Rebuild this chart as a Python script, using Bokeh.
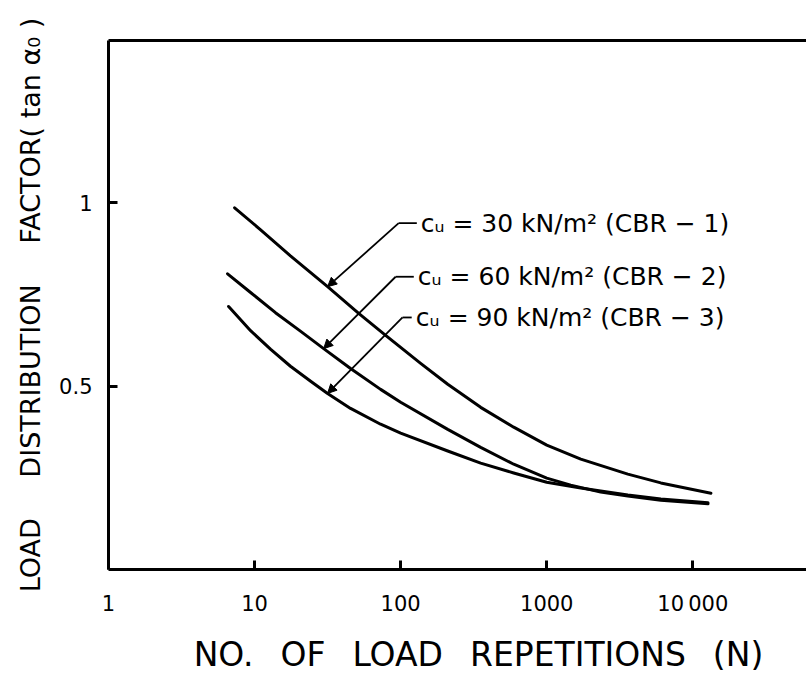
from bokeh.plotting import figure
from bokeh.models import (Range1d, FixedTicker, LinearAxis, ColumnDataSource,
                          Arrow, NormalHead)
from bokeh.core.properties import value
from bokeh.embed import file_html
from bokeh.resources import INLINE

# ---- data ----
# CBR-1 (cu = 30 kN/m2)
n_cbr1 = [7.30, 11.0, 17.6, 31.6, 51.6, 78.9, 137, 210, 353, 594, 1000, 1710, 3590, 6040, 13300]
f_cbr1 = [0.986, 0.926, 0.855, 0.771, 0.698, 0.638, 0.562, 0.505, 0.442, 0.388, 0.339, 0.301, 0.260, 0.236, 0.208]
# CBR-2 (cu = 60 kN/m2)
n_cbr2 = [6.53, 9.39, 13.9, 20.7, 29.7, 45.4, 72.9, 100, 210, 353, 594, 1000, 1460, 2340, 3590, 6040, 12700]
f_cbr2 = [0.806, 0.755, 0.700, 0.649, 0.602, 0.548, 0.491, 0.456, 0.382, 0.333, 0.287, 0.249, 0.230, 0.211, 0.200, 0.189, 0.179]
# CBR-3 (cu = 90 kN/m2)
n_cbr3 = [6.64, 9.39, 12.9, 17.6, 24.2, 31.6, 45.4, 72.9, 100, 210, 353, 594, 1000, 1710, 2340, 3590, 6040, 12700]
f_cbr3 = [0.717, 0.651, 0.600, 0.554, 0.513, 0.480, 0.439, 0.396, 0.372, 0.323, 0.290, 0.263, 0.238, 0.222, 0.214, 0.203, 0.192, 0.182]

x_ticks = [1, 10, 100, 1000, 10000]
x_tick_labels = {1: "1", 10: "10", 100: "100", 1000: "1000", 10000: "10\u2009000"}
y_ticks = [0.5, 1]
y_tick_labels = {0.5: "0.5", 1: "1"}

# annotation texts and leader anchors (data coordinates)
ann_text = ["c\u1d64 = 30 kN/m\u00b2 (CBR \u2212 1)",
            "c\u1d64 = 60 kN/m\u00b2 (CBR \u2212 2)",
            "c\u1d64 = 90 kN/m\u00b2 (CBR \u2212 3)"]
ann_n = [137, 131, 127]
ann_v = [0.944, 0.798, 0.687]
stub_end_n = [129, 123, 119]
elbow_n = [96.9, 92.4, 103]
target_n = [n_cbr1[3], n_cbr2[4], n_cbr3[5]]
target_v = [f_cbr1[3], f_cbr2[4], f_cbr3[5]]

FONT = "DejaVu Sans"
GAP = "\u00a0\u2002"

p = figure(width=806, height=676, x_axis_type="log",
           x_range=Range1d(1, 60000), y_range=Range1d(0, 1.442),
           output_backend="svg", toolbar_location=None,
           min_border_left=108, min_border_right=0,
           min_border_top=40, min_border_bottom=105)
p.outline_line_color = None
p.xgrid.visible = False
p.ygrid.visible = False
p.background_fill_color = "white"
p.border_fill_color = "white"

# axes
xa = p.xaxis[0]
xa.ticker = FixedTicker(ticks=x_ticks)
xa.major_label_overrides = x_tick_labels
xa.axis_label = "\u00a0" * 4 + GAP.join(["NO.", "OF", "LOAD", "REPETITIONS", "(N)"])
ya = p.yaxis[0]
ya.ticker = FixedTicker(ticks=y_ticks)
ya.major_label_overrides = y_tick_labels
ya.axis_label = "LOAD\u2003\u2002DISTRIBUTION\u2003\u2002FACTOR( tan \u03b1\u2080 )"
for ax in (xa, ya):
    ax.axis_line_width = 3
    ax.axis_line_color = "black"
    ax.major_tick_in = 9
    ax.major_tick_out = 0
    ax.major_tick_line_width = 3
    ax.minor_tick_line_color = None
    ax.major_label_text_font = FONT
    ax.major_label_text_font_size = "21px"
    ax.major_label_text_color = "black"
    ax.axis_label_text_font = FONT
    ax.axis_label_text_font_style = "normal"
    ax.axis_label_text_color = "black"
xa.major_label_standoff = 22
xa.axis_label_standoff = 16
xa.axis_label_text_font_size = "33px"
ya.major_label_standoff = 16
ya.axis_label_standoff = 10
ya.axis_label_text_font_size = "27px"

top = LinearAxis(ticker=FixedTicker(ticks=[]), major_label_text_font_size="0px",
                 axis_line_width=3, axis_line_color="black",
                 major_tick_line_color=None, minor_tick_line_color=None)
p.add_layout(top, "above")

# curves
for n, f in ((n_cbr1, f_cbr1), (n_cbr2, f_cbr2), (n_cbr3, f_cbr3)):
    p.line(n, f, line_width=3, line_color="black", line_join="round", line_cap="round")

# leaders
p.segment(x0=stub_end_n, y0=ann_v, x1=elbow_n, y1=ann_v,
          line_color="black", line_width=1.8)
for i in range(3):
    p.add_layout(Arrow(x_start=elbow_n[i], y_start=ann_v[i],
                       x_end=target_n[i], y_end=target_v[i],
                       line_color="black", line_width=1.8,
                       end=NormalHead(size=9, fill_color="black",
                                      line_color="black", line_width=1)))

src = ColumnDataSource(dict(x=ann_n, y=ann_v, t=ann_text))
p.text(x="x", y="y", text="t", source=src, text_font=value(FONT),
       text_font_size="25px", text_baseline="middle", text_align="left",
       text_color="black")

open("out.html", "w").write(file_html(p, INLINE))
